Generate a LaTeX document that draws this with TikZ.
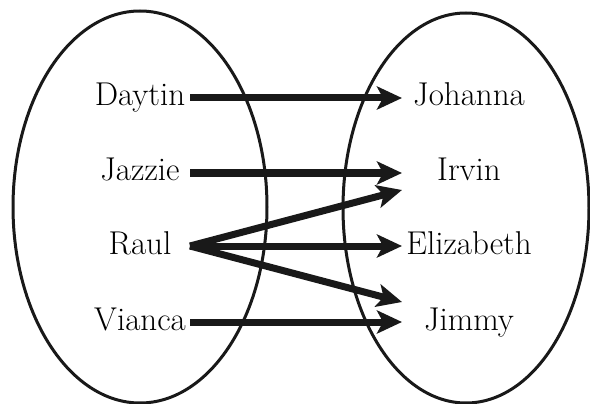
\documentclass[tikz,border=0pt]{standalone}
\usepackage{tikz}
\usetikzlibrary{positioning, arrows.meta, shapes.geometric, calc}

\begin{document}
\begin{tikzpicture}[
    x=1pt, y=-1pt,
    font=\fontsize{33}{38}\selectfont,
    set/.style={draw=black!90, line width=3pt, ellipse, inner sep=0pt},
    member/.style={inner sep=0pt, text height=23pt, text depth=7pt},
    link/.style={draw=black!90, line width=7pt,
        -{Stealth[length=25pt, width=23pt, inset=6pt]}},
]

\useasboundingbox (0,0) rectangle (590,404);

% The two sets
\node[set, minimum width=254pt, minimum height=392pt] (domain) at (140,207) {};
\node[set, minimum width=246pt, minimum height=390pt] (codomain) at (466,208) {};

% Members
\foreach \nm/\yy in {Daytin/98, Jazzie/173, Raul/246, Vianca/322}
    \node[member] (\nm) at (140,\yy) {\nm};
\foreach \nm/\yy in {Johanna/98, Irvin/173, Elizabeth/246, Jimmy/322}
    \node[member] (\nm) at (469,\yy) {\nm};

% Where the arrows start and stop
\coordinate (tail) at (190,0);
\coordinate (head) at (402,0);

% The mapping
\draw[link] (Daytin.center -| tail) -- (Johanna.center -| head);
\draw[link] (Jazzie.center -| tail) -- (Irvin.center -| head);
\draw[link] (Raul.center -| tail) -- ($(Irvin.center -| head)+(0,17)$);
\draw[link] (Raul.center -| tail) -- (Elizabeth.center -| head);
\draw[link] (Raul.center -| tail) -- ($(Jimmy.center -| head)+(0,-20)$);
\draw[link] (Vianca.center -| tail) -- (Jimmy.center -| head);

\end{tikzpicture}
\end{document}
